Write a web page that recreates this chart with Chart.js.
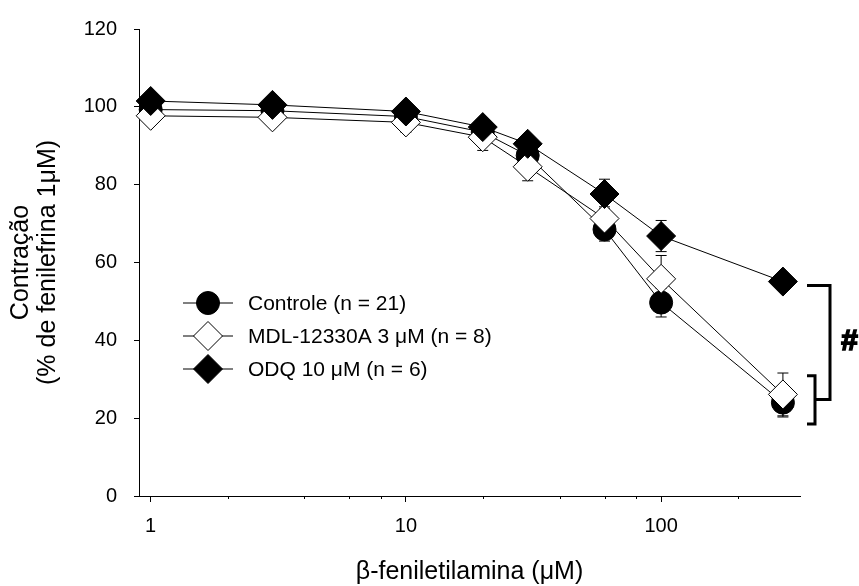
<!DOCTYPE html>
<html>
<head>
<meta charset="utf-8">
<script src="https://cdn.jsdelivr.net/npm/chart.js@4.4.1/dist/chart.umd.min.js"></script>
<style>
  html, body { margin: 0; padding: 0; background: #fff; }
</style>
</head>
<body>
<canvas id="myChart" width="859" height="586"></canvas>
<script>
// values
const concentrations = [1, 3, 10, 20, 30, 60, 100, 300]
const seriesNames = ['Controle (n = 21)', 'MDL-12330A 3 μM (n = 8)', 'ODQ 10 μM (n = 6)']
const controle = [99.3, 99.0, 97.5, 93.5, 87.5, 68.5, 49.7, 24.0]
const controleSem = [1, 1, 1, 1.2, 2, 3, 3.7, 3.7]
const mdl = [97.7, 97.3, 96.0, 92.2, 84.6, 71.3, 55.8, 26.1]
const mdlSem = [1, 1, 2.5, 3.4, 3.6, 3, 6, 5.5]
const odq = [101.5, 100.5, 98.8, 94.8, 90.5, 77.6, 66.8, 55.1]
const odqSem = [1.5, 1.5, 1.5, 1.5, 2, 3.8, 4, 1]
const xTicks = [1, 10, 100]
const xMinorTicks = [2, 4, 6, 8, 20, 40, 60, 80, 200]
const yTicks = [0, 20, 40, 60, 80, 100, 120]
const bracketOuter = [54.1, 24.8]
const bracketInner = [30.9, 18.5]
const sigLabel = '#'

Chart.defaults.font.family = "'Liberation Sans', Arial, Helvetica, sans-serif"
Chart.defaults.color = '#000'

const toPoints = (vals) => vals.map((v, i) => ({x: concentrations[i], y: v}))

const styles = [
  {shape: 'circle', radius: 11.5, fill: '#000'},
  {shape: 'rectRot', radius: 14.5, fill: '#fff'},
  {shape: 'rectRot', radius: 14.5, fill: '#000'}
]
const sems = [controleSem, mdlSem, odqSem]

const dataSet = [controle, mdl, odq].map((vals, i) => ({
  label: seriesNames[i],
  data: toPoints(vals),
  borderColor: '#000',
  borderWidth: 1,
  backgroundColor: styles[i].fill,
  pointStyle: styles[i].shape,
  pointRadius: styles[i].radius,
  pointBackgroundColor: styles[i].fill,
  pointBorderColor: '#000',
  pointBorderWidth: 1,
  clip: false,
  order: 3 - i
}))

function drawMarker(ctx, shape, r, fill, x, y) {
  ctx.beginPath()
  if (shape === 'circle') {
    ctx.arc(x, y, r, 0, Math.PI * 2)
  } else {
    ctx.moveTo(x, y - r)
    ctx.lineTo(x + r, y)
    ctx.lineTo(x, y + r)
    ctx.lineTo(x - r, y)
    ctx.closePath()
  }
  ctx.fillStyle = fill
  ctx.fill()
  ctx.lineWidth = 1
  ctx.strokeStyle = '#000'
  ctx.stroke()
}

const errorBars = {
  id: 'errorBars',
  beforeDatasetsDraw(chart) {
    const {ctx, scales: {x, y}} = chart
    ctx.save()
    ctx.strokeStyle = '#000'
    ctx.lineWidth = 1
    dataSet.forEach((ds, i) => {
      ds.data.forEach((p, j) => {
        const px = x.getPixelForValue(p.x)
        const top = y.getPixelForValue(p.y + sems[i][j])
        const bot = y.getPixelForValue(p.y - sems[i][j])
        ctx.beginPath()
        ctx.moveTo(px, top); ctx.lineTo(px, bot)
        ctx.moveTo(px - 5.5, top); ctx.lineTo(px + 5.5, top)
        ctx.moveTo(px - 5.5, bot); ctx.lineTo(px + 5.5, bot)
        ctx.stroke()
      })
    })
    ctx.restore()
  }
}

const extras = {
  id: 'extras',
  afterDraw(chart) {
    const {ctx, chartArea, scales: {x, y}} = chart
    ctx.save()
    // minor log ticks
    ctx.strokeStyle = '#000'
    ctx.lineWidth = 1
    xMinorTicks.forEach(v => {
      const px = Math.round(x.getPixelForValue(v)) + 0.5
      ctx.beginPath()
      ctx.moveTo(px, chartArea.bottom)
      ctx.lineTo(px, chartArea.bottom + 3)
      ctx.stroke()
    })
    // legend
    const rows = [303, 336, 369]
    seriesNames.forEach((name, i) => {
      const ly = rows[i]
      ctx.beginPath()
      ctx.moveTo(183, ly); ctx.lineTo(233, ly)
      ctx.strokeStyle = '#000'
      ctx.lineWidth = 1
      ctx.stroke()
      drawMarker(ctx, styles[i].shape, styles[i].radius, styles[i].fill, 208, ly)
      ctx.fillStyle = '#000'
      ctx.font = "21px 'Liberation Sans', Arial, sans-serif"
      ctx.textBaseline = 'middle'
      ctx.textAlign = 'left'
      ctx.fillText(name, 248, ly + 1)
    })
    // significance brackets
    const r = chartArea.right
    ctx.lineWidth = 3
    ctx.lineJoin = 'miter'
    const oTop = y.getPixelForValue(bracketOuter[0])
    const oBot = y.getPixelForValue(bracketOuter[1])
    const iTop = y.getPixelForValue(bracketInner[0])
    const iBot = y.getPixelForValue(bracketInner[1])
    ctx.beginPath()
    ctx.moveTo(r + 7, oTop); ctx.lineTo(r + 30, oTop); ctx.lineTo(r + 30, oBot); ctx.lineTo(r + 15, oBot)
    ctx.stroke()
    ctx.beginPath()
    ctx.moveTo(r + 7, iTop); ctx.lineTo(r + 15, iTop); ctx.lineTo(r + 15, iBot); ctx.lineTo(r + 7, iBot)
    ctx.stroke()
    ctx.font = "italic bold 30px 'Liberation Sans', Arial, sans-serif"
    ctx.textAlign = 'center'
    ctx.textBaseline = 'middle'
    ctx.lineWidth = 1.6
    ctx.strokeText(sigLabel, r + 49, (oTop + oBot) / 2 - 1)
    ctx.fillText(sigLabel, r + 49, (oTop + oBot) / 2 - 1)
    ctx.restore()
  }
}

const ctx = document.getElementById('myChart')
const myChart = new Chart(ctx, {
  type: 'line',
  data: { datasets: dataSet },
  options: {
    responsive: false,
    animation: false,
    devicePixelRatio: 1,
    layout: { padding: { top: 24, right: 59, left: 0, bottom: 0 } },
    plugins: { legend: { display: false }, tooltip: { enabled: false } },
    scales: {
      x: {
        type: 'logarithmic',
        min: 0.9,
        max: 350,
        afterBuildTicks: (s) => { s.ticks = xTicks.map(v => ({value: v})) },
        afterFit: (s) => { s.height = 90 },
        ticks: { font: { size: 20 }, color: '#000', padding: 12, maxRotation: 0, autoSkip: false,
          callback: (v) => String(v) },
        grid: { drawOnChartArea: false, drawTicks: true, tickLength: 6, tickColor: '#000', tickWidth: 1 },
        border: { color: '#000', width: 1 },
        title: { display: true, text: 'β-feniletilamina (μM)', color: '#000',
          font: { size: 25, lineHeight: 1.1 }, padding: { top: 0, bottom: 0 } }
      },
      y: {
        min: 0,
        max: 120,
        afterBuildTicks: (s) => { s.ticks = yTicks.map(v => ({value: v})) },
        afterFit: (s) => { s.width = 139 },
        ticks: { font: { size: 20 }, color: '#000', padding: 17 },
        grid: { drawOnChartArea: false, drawTicks: true, tickLength: 5, tickColor: '#000', tickWidth: 1 },
        border: { color: '#000', width: 1 },
        title: { display: true, text: ['Contração', '(% de fenilefrina 1μM)'], color: '#000',
          font: { size: 25, lineHeight: 1.1 }, padding: { top: 7, bottom: 0 } }
      }
    }
  },
  plugins: [errorBars, extras]
})
</script>
</body>
</html>
